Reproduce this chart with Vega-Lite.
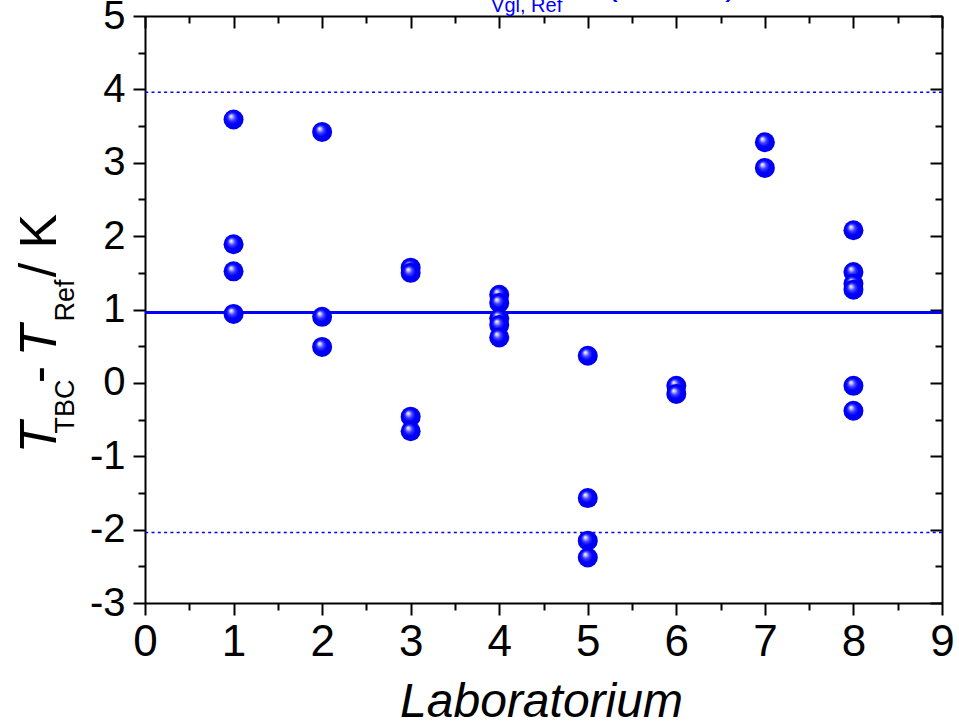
{
  "$schema": "https://vega.github.io/schema/vega-lite/v6.json",
  "width": 797,
  "height": 587,
  "autosize": "none",
  "padding": {"left": 145, "top": 16, "right": 17, "bottom": 120},
  "background": "white",
  "config": {
    "view": {"stroke": null},
    "axis": {
      "grid": false,
      "domainColor": "#000000",
      "domainWidth": 2,
      "tickColor": "#000000",
      "tickWidth": 2,
      "labelFont": "Liberation Sans",
      "titleFont": "Liberation Sans",
      "labelColor": "#000000",
      "titleColor": "#000000",
      "titleFontWeight": "normal"
    }
  },
  "datasets": {
    "points": [
      {"lab": 1, "dT": 3.59}, {"lab": 1, "dT": 1.89}, {"lab": 1, "dT": 1.52}, {"lab": 1, "dT": 0.94},
      {"lab": 2, "dT": 3.42}, {"lab": 2, "dT": 0.90}, {"lab": 2, "dT": 0.49},
      {"lab": 3, "dT": 1.57}, {"lab": 3, "dT": 1.50}, {"lab": 3, "dT": -0.46}, {"lab": 3, "dT": -0.66},
      {"lab": 4, "dT": 1.20}, {"lab": 4, "dT": 1.09}, {"lab": 4, "dT": 0.88}, {"lab": 4, "dT": 0.79}, {"lab": 4, "dT": 0.62},
      {"lab": 5, "dT": 0.37}, {"lab": 5, "dT": -1.57}, {"lab": 5, "dT": -2.15}, {"lab": 5, "dT": -2.38},
      {"lab": 6, "dT": -0.04}, {"lab": 6, "dT": -0.15},
      {"lab": 7, "dT": 3.28}, {"lab": 7, "dT": 2.93},
      {"lab": 8, "dT": 2.08}, {"lab": 8, "dT": 1.51}, {"lab": 8, "dT": 1.35}, {"lab": 8, "dT": 1.27}, {"lab": 8, "dT": -0.04}, {"lab": 8, "dT": -0.38}
    ],
    "limits": [{"line": "upper", "dT": 3.96}, {"line": "lower", "dT": -2.04}],
    "mean": [{"line": "mean", "dT": 0.96}]
  },
  "layer": [
    {
      "data": {"name": "limits"},
      "mark": {"type": "rule", "color": "#0000ff", "strokeWidth": 1.5, "strokeDash": [3, 3.3]},
      "encoding": {
        "y": {
          "field": "dT", "type": "quantitative",
          "scale": {"domain": [-3, 5], "nice": false, "zero": false},
          "axis": {
            "orient": "left",
            "values": [-3, -2.5, -2, -1.5, -1, -0.5, 0, 0.5, 1, 1.5, 2, 2.5, 3, 3.5, 4, 4.5, 5],
            "labelExpr": "datum.value % 1 === 0 ? '' + datum.value : ''",
            "tickSize": {"condition": {"test": "datum.value % 1 === 0", "value": 12}, "value": 7},
            "labelPadding": 8,
            "labelFontSize": 40,
            "title": "T",
            "titleFontSize": 52,
            "titleFontStyle": "italic",
            "titleAngle": 270,
            "titleAlign": "center",
            "titleBaseline": "alphabetic",
            "titleX": -90,
            "titleY": 421
          }
        }
      }
    },
    {
      "data": {"name": "mean"},
      "mark": {"type": "rule", "color": "#0000ff", "strokeWidth": 3},
      "encoding": {
        "y": {
          "field": "dT", "type": "quantitative",
          "scale": {"domain": [-3, 5], "nice": false, "zero": false},
          "axis": {
            "orient": "right",
            "values": [-3, -2.5, -2, -1.5, -1, -0.5, 0, 0.5, 1, 1.5, 2, 2.5, 3, 3.5, 4, 4.5, 5],
            "labels": false,
            "tickSize": {"condition": {"test": "datum.value % 1 === 0", "value": -12}, "value": -7},
            "title": "TBC",
            "titleFontSize": 27,
            "titleFontStyle": "normal",
            "titleAngle": 270,
            "titleAlign": "center",
            "titleBaseline": "alphabetic",
            "titleX": -869,
            "titleY": 390
          }
        }
      }
    },
    {
      "data": {"name": "points"},
      "mark": {
        "type": "point",
        "filled": true,
        "size": 400,
        "opacity": 1,
        "strokeWidth": 0,
        "fill": {
          "gradient": "radial",
          "x1": 0.36, "y1": 0.32, "r1": 0,
          "x2": 0.5, "y2": 0.5, "r2": 0.5,
          "stops": [
            {"offset": 0, "color": "#ffffff"},
            {"offset": 0.12, "color": "#d0d0ff"},
            {"offset": 0.35, "color": "#4040ff"},
            {"offset": 0.6, "color": "#0000ff"},
            {"offset": 1, "color": "#0000e8"}
          ]
        }
      },
      "encoding": {
        "x": {
          "field": "lab", "type": "quantitative",
          "scale": {"domain": [0, 9], "nice": false, "zero": false},
          "axis": {
            "orient": "bottom",
            "values": [0, 0.5, 1, 1.5, 2, 2.5, 3, 3.5, 4, 4.5, 5, 5.5, 6, 6.5, 7, 7.5, 8, 8.5, 9],
            "labelExpr": "datum.value % 1 === 0 ? '' + datum.value : ''",
            "tickSize": {"condition": {"test": "datum.value % 1 === 0", "value": 12}, "value": 7},
            "labelFontSize": 44,
            "labelBaseline": "alphabetic",
            "labelPadding": 40,
            "labelFlush": false,
            "labelOverlap": false,
            "title": "Laboratorium",
            "titleFontSize": 48,
            "titleFontStyle": "italic",
            "titleAlign": "center",
            "titleBaseline": "alphabetic",
            "titleX": 396,
            "titleY": 113
          }
        },
        "y": {
          "field": "dT", "type": "quantitative",
          "scale": {"domain": [-3, 5], "nice": false, "zero": false},
          "axis": {
            "orient": "left",
            "domain": false, "ticks": false, "labels": false,
            "title": "-",
            "titleFontSize": 52,
            "titleFontStyle": "normal",
            "titleAngle": 270,
            "titleAlign": "center",
            "titleBaseline": "alphabetic",
            "titleX": -90,
            "titleY": 358
          }
        }
      }
    },
    {
      "data": {"name": "points"},
      "mark": {"type": "point", "opacity": 0},
      "encoding": {
        "x": {
          "field": "lab", "type": "quantitative",
          "scale": {"domain": [0, 9], "nice": false, "zero": false},
          "axis": {
            "orient": "top",
            "values": [0, 0.5, 1, 1.5, 2, 2.5, 3, 3.5, 4, 4.5, 5, 5.5, 6, 6.5, 7, 7.5, 8, 8.5, 9],
            "labels": false,
            "tickSize": {"condition": {"test": "datum.value % 1 === 0", "value": -12}, "value": -7},
            "title": null
          }
        },
        "y": {
          "field": "dT", "type": "quantitative",
          "scale": {"domain": [-3, 5], "nice": false, "zero": false},
          "axis": {
            "orient": "left",
            "domain": false, "ticks": false, "labels": false,
            "title": "T",
            "titleFontSize": 52,
            "titleFontStyle": "italic",
            "titleAngle": 270,
            "titleAlign": "center",
            "titleBaseline": "alphabetic",
            "titleX": -90,
            "titleY": 324
          }
        }
      }
    },
    {
      "data": {"name": "points"},
      "mark": {"type": "point", "opacity": 0},
      "encoding": {
        "y": {
          "field": "dT", "type": "quantitative",
          "scale": {"domain": [-3, 5], "nice": false, "zero": false},
          "axis": {
            "orient": "left",
            "domain": false, "ticks": false, "labels": false,
            "title": "Ref",
            "titleFontSize": 27,
            "titleFontStyle": "normal",
            "titleAngle": 270,
            "titleAlign": "center",
            "titleBaseline": "alphabetic",
            "titleX": -72,
            "titleY": 284
          }
        }
      }
    },
    {
      "data": {"name": "points"},
      "mark": {"type": "point", "opacity": 0},
      "encoding": {
        "y": {
          "field": "dT", "type": "quantitative",
          "scale": {"domain": [-3, 5], "nice": false, "zero": false},
          "axis": {
            "orient": "left",
            "domain": false, "ticks": false, "labels": false,
            "title": "/ K",
            "titleFontSize": 52,
            "titleFontStyle": "normal",
            "titleAngle": 270,
            "titleAlign": "center",
            "titleBaseline": "alphabetic",
            "titleX": -90,
            "titleY": 229
          }
        }
      }
    },
    {
      "data": {"values": [{"label": "Vgl, Ref"}]},
      "mark": {"type": "text", "color": "#0000ff", "font": "Liberation Sans", "fontSize": 20, "align": "center", "baseline": "alphabetic", "dy": -4},
      "encoding": {
        "x": {"datum": 4.31, "type": "quantitative", "scale": {"domain": [0, 9], "nice": false, "zero": false}, "axis": null},
        "y": {"datum": 5, "type": "quantitative", "scale": {"domain": [-3, 5], "nice": false, "zero": false}, "axis": null},
        "text": {"field": "label", "type": "nominal"}
      }
    },
    {
      "data": {"values": [{"label": "(", "pos": 5.27}, {"label": ")", "pos": 6.62}]},
      "mark": {"type": "text", "color": "#0000ff", "font": "Liberation Sans", "fontSize": 36, "align": "center", "baseline": "alphabetic", "dy": -22},
      "encoding": {
        "x": {"field": "pos", "type": "quantitative", "scale": {"domain": [0, 9], "nice": false, "zero": false}, "axis": null},
        "y": {"datum": 5, "type": "quantitative", "scale": {"domain": [-3, 5], "nice": false, "zero": false}, "axis": null},
        "text": {"field": "label", "type": "nominal"}
      }
    }
  ],
  "resolve": {"axis": {"x": "independent", "y": "independent"}}
}
